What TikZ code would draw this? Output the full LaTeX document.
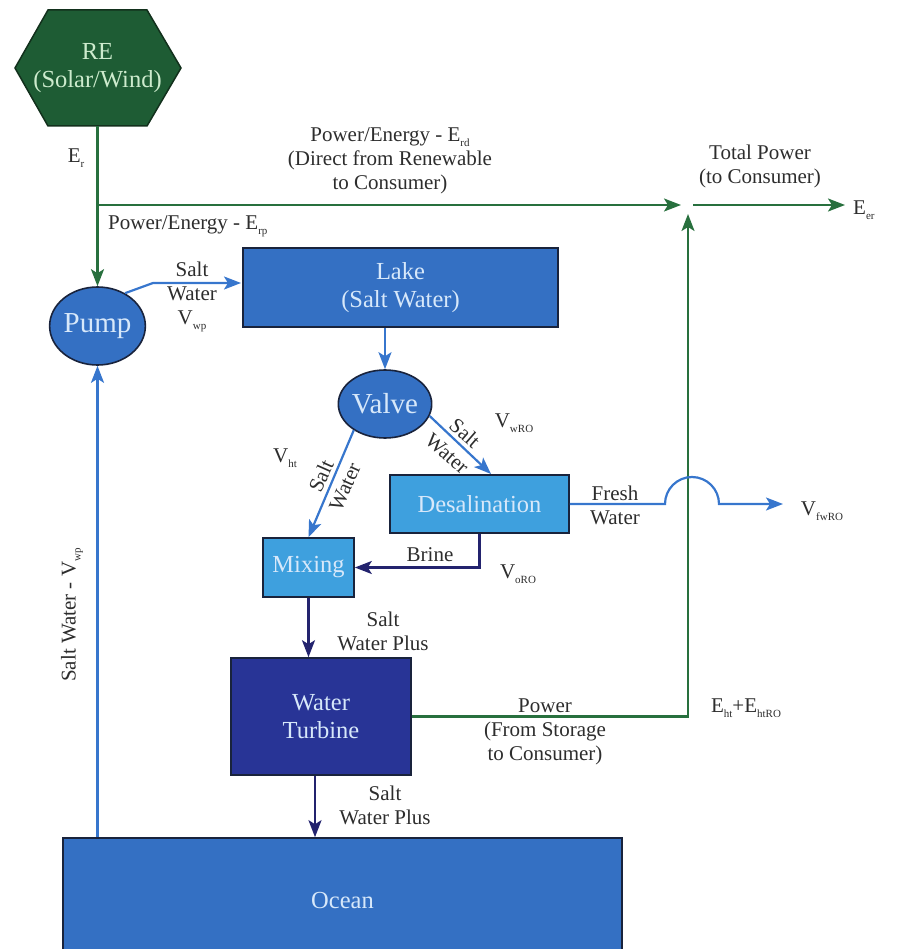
\documentclass[tikz,border=0pt]{standalone}
\usepackage{fontspec}
\setmainfont{Liberation Serif}
\usetikzlibrary{arrows.meta,shapes.geometric,calc}
\definecolor{greenc}{RGB}{40,112,62}
\definecolor{hexgreen}{RGB}{30,92,52}
\definecolor{hexborder}{RGB}{18,48,28}
\definecolor{hextext}{RGB}{205,235,205}
\definecolor{bluec}{RGB}{55,118,205}
\definecolor{navyc}{RGB}{35,35,110}
\definecolor{nodeblue}{RGB}{52,112,195}
\definecolor{lightblue}{RGB}{62,160,222}
\definecolor{turbblue}{RGB}{40,52,150}
\definecolor{borderc}{RGB}{25,35,60}
\definecolor{labelc}{RGB}{45,45,45}
\definecolor{nodetext}{RGB}{215,232,250}
\newcommand{\lsub}[1]{\raisebox{-0.5ex}{\fontsize{11}{11}\selectfont #1}}
\begin{document}
\begin{tikzpicture}[x=1pt,y=-1pt,
  lbl/.style={text=labelc, font=\fontsize{21}{24}\selectfont, align=center, inner sep=0pt},
  boxtxt/.style={text=nodetext, font=\fontsize{24.5}{28}\selectfont, align=center},
  rbox/.style={draw=borderc, line width=1.6pt, rectangle, inner sep=0pt, boxtxt},
  ebox/.style={draw=borderc, line width=1.6pt, ellipse, inner sep=0pt, fill=nodeblue, text=nodetext, font=\fontsize{29}{32}\selectfont},
  tipA/.style={-{Stealth[length=17pt,width=13pt,inset=4pt]}},
  gline/.style={draw=greenc, line width=2.2pt},
  garrow/.style={gline, tipA},
  barrow/.style={draw=bluec, line width=2.2pt, tipA},
  narrow/.style={draw=navyc, line width=2.2pt, tipA}]
\useasboundingbox (0,0) rectangle (901,949);

% RE hexagon
\filldraw[fill=hexgreen, draw=hexborder, line width=1.5pt]
  (48,10) -- (147,10) -- (181,68) -- (147,126) -- (48,126) -- (15,68) -- cycle;
\node[boxtxt, text=hextext, minimum height=116pt, inner sep=0pt] (re) at (97.5,68) {RE\\(Solar/Wind)};

% nodes
\node[ebox, minimum width=90pt, minimum height=78pt] (pump) at (97.5,326) {Pump};
\node[rbox, fill=nodeblue, minimum width=315pt, minimum height=79pt] (lake) at (400.5,287.5) {Lake\\(Salt Water)};
\node[ebox, minimum width=76pt, minimum height=68pt] (valve) at (385,404) {Valve};
\node[rbox, fill=lightblue, minimum width=179pt, minimum height=58pt] (desal) at (479.5,504) {Desalination};
\node[rbox, fill=lightblue, minimum width=91pt, minimum height=59pt] (mixing) at (308.5,567.5) {Mixing};
\node[rbox, fill=turbblue, minimum width=180pt, minimum height=117pt] (turbine) at (321,716.5) {Water\\Turbine};
\node[rbox, fill=nodeblue, minimum width=559pt, minimum height=124pt] (ocean) at (342.5,900) {Ocean};

% coordinates
\coordinate (j1) at (97.5,205);
\coordinate (tp) at (688,205);
\coordinate (eerend) at (845,205);
\coordinate (lakein) at (241,283);
\coordinate (pumpbend) at (153,283);
\coordinate (desin) at (491,474);
\coordinate (fwbend) at (665,504);
\coordinate (fwend) at (783,504);

% green power lines
\draw[garrow] (re.south) -- (pump.north);
\draw[garrow] (j1) -- ([xshift=-7pt]tp);
\draw[garrow] ([xshift=5pt]tp) -- (eerend);
\draw[garrow] (turbine.east) -| ([yshift=-9pt]tp);

% water flows
\draw[barrow] (pump.50) -- (pumpbend) -- (lakein);
\draw[barrow] (valve.north |- lake.south) -- (valve.north);
\draw[barrow] (valve.220) -- (mixing.north);
\draw[barrow] (valve.-15) -- (desin);
\draw[barrow] (desal.east) -- (fwbend) arc[start angle=180, end angle=360, radius=27] -- (fwend);
\draw[narrow] (desal.south) |- (mixing.east);
\draw[narrow] (mixing.south) -- (mixing.south |- turbine.north);
\draw[narrow] ([xshift=-6pt]turbine.south) -- ([xshift=-6pt]turbine.south |- ocean.north);
\draw[barrow] (pump.south |- ocean.north) -- (pump.south);

% labels
\node[lbl] (lEr) at (76,158) {E\lsub{r}};
\node[lbl, anchor=west] (lErp) at (108,226) {Power/Energy - E\lsub{rp}};
\node[lbl] (lErd) at (390,161) {Power/Energy - E\lsub{rd}\\(Direct from Renewable\\to Consumer)};
\node[lbl] (ltot) at (760,166) {Total Power\\(to Consumer)};
\node[lbl, anchor=west] (leer) at (853,210) {E\lsub{er}};
\node[lbl] (lswp) at (192,297) {Salt\\Water\\V\lsub{wp}};
\node[lbl] (lvht) at (285,458) {V\lsub{ht}};
\node[lbl, rotate=66] (lvm1) at (321,476) {Salt};
\node[lbl, rotate=66] (lvm2) at (345,487) {Water};
\node[lbl, rotate=-41] (lvd1) at (465,433) {Salt};
\node[lbl, rotate=-41] (lvd2) at (447,454) {Water};
\node[lbl] (lvwro) at (514,423) {V\lsub{wRO}};
\node[lbl] (lfw) at (615,505) {Fresh\\Water};
\node[lbl] (lvfw) at (822,511) {V\lsub{fwRO}};
\node[lbl] (lbrine) at (430,555) {Brine};
\node[lbl] (lvoro) at (518,574) {V\lsub{oRO}};
\node[lbl] (lmt) at (383,631) {Salt\\Water Plus};
\node[lbl] (lpow) at (545,732) {Power\\(From Storage\\to Consumer)};
\node[lbl] (leht) at (746,708) {E\lsub{ht}+E\lsub{htRO}};
\node[lbl] (lto) at (385,805) {Salt\\Water Plus};
\node[lbl, rotate=90] (lswv) at (72,615) {Salt Water - V\lsub{wp}};
\end{tikzpicture}
\end{document}
